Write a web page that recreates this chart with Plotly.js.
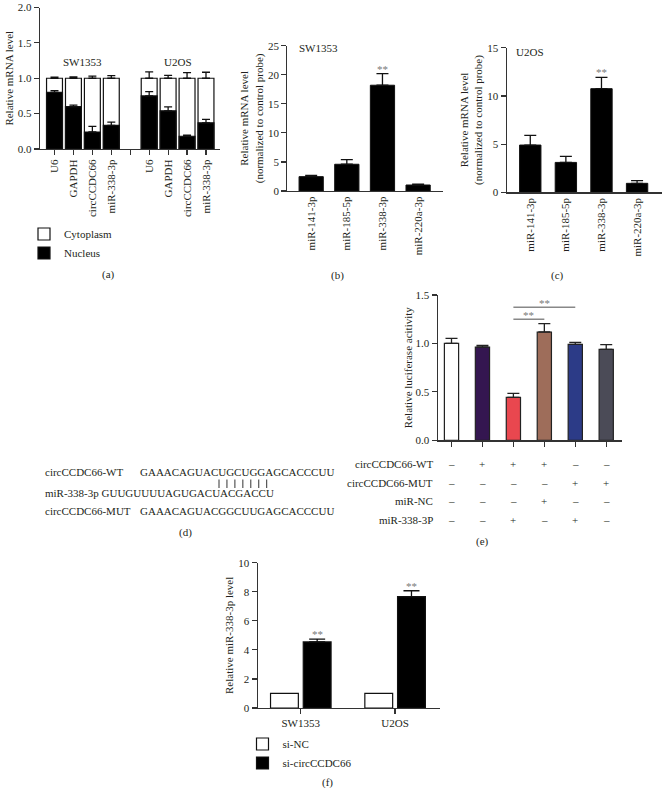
<!DOCTYPE html>
<html><head><meta charset="utf-8">
<script src="https://cdn.plot.ly/plotly-3.0.1.min.js"></script>
<style>html,body{margin:0;padding:0;background:#fff}#chart{width:662px;height:788px}</style>
</head><body><div id="chart"></div>
<script>
// ---------- (a) subcellular fractionation ----------
const fracGenes = ["U6","GAPDH","circCCDC66","miR-338-3p"];
const fracCells = ["SW1353","U2OS"];
const nucleusSW = [0.80,0.60,0.24,0.335];
const nucleusSWErr = [0.026,0.02,0.08,0.045];
const cytoSW = [0.20,0.40,0.76,0.665];
const cytoSWErr = [0.014,0.018,0.03,0.037];
const nucleusU2 = [0.75,0.54,0.18,0.37];
const nucleusU2Err = [0.06,0.055,0.017,0.05];
const cytoU2 = [0.25,0.46,0.82,0.63];
const cytoU2Err = [0.09,0.04,0.08,0.085];
// ---------- (b), (c) candidate miRNAs ----------
const mirNames = ["miR-141-3p","miR-185-5p","miR-338-3p","miR-220a-3p"];
const mirSW = [2.47,4.6,18.2,1.03];
const mirSWErr = [0.23,0.8,2.0,0.17];
const mirU2 = [4.9,3.1,10.75,0.93];
const mirU2Err = [1.0,0.62,1.18,0.28];
const mirSig = ["","","**",""];
// ---------- (d) sequences ----------
const seqLabels = ["circCCDC66-WT","miR-338-3p","circCCDC66-MUT"];
const seqWT = "GAAACAGUACUGCUGGAGCACCCUU";
const seqMiR = "GUUGUUUUAGUGACUACGACCU";
const seqMUT = "GAAACAGUACGGCUUGAGCACCCUU";
const pairCount = 7;
// ---------- (e) luciferase ----------
const lucGroups = [0,1,2,3,4,5];
const lucVals = [1.00,0.963,0.444,1.118,0.99,0.939];
const lucErr = [0.052,0.017,0.041,0.086,0.021,0.048];
const lucColors = ["#ffffff","#341650","#e9474f","#9e6d5a","#2c3b87","#4b4b57"];
const lucRows = ["circCCDC66-WT","circCCDC66-MUT","miR-NC","miR-338-3P"];
const lucTable = [
  ["–","+","+","+","–","–"],
  ["–","–","–","–","+","+"],
  ["–","–","–","+","–","–"],
  ["–","–","+","–","+","–"]
];
const lucSigPairs = [[2,3],[2,4]];
const lucSigText = ["**","**"];
// ---------- (f) knockdown ----------
const kdCells = ["SW1353","U2OS"];
const siNC = [1,1];
const siCirc = [4.55,7.66];
const siCircErr = [0.19,0.41];
const kdSig = ["**","**"];

const F = "Liberation Serif, Times New Roman, serif";
const TC = "#231f20";
const W = 662, H = 788;
const px = v => v / W;
const py = v => 1 - v / H;

const axBase = {showline:true, linecolor:'#333', linewidth:1.2, ticks:'outside', ticklen:5, tickwidth:1.2,
  tickcolor:'#333', showgrid:false, zeroline:false, tickfont:{family:F,size:11,color:TC}, fixedrange:true,
  ticklabeloverflow:'allow'};
const ax = o => Object.assign({}, axBase, o);
const titleFont = {family:F,size:11,color:TC};

const traces = [];
// (a)
const posA = [];
const tickA = [];
fracCells.forEach((c,gi)=>{ fracGenes.forEach((g,i)=>{ posA.push(gi*(fracGenes.length+1)+i); }); });
for (let k=0;k<fracCells.length*(fracGenes.length+1)-1;k++){ tickA.push(k); }
const tickTextA = tickA.map(k=>{ const i=k%(fracGenes.length+1); return i<fracGenes.length?fracGenes[i]:""; });
const nucAll = nucleusSW.concat(nucleusU2);
const nucErrAll = nucleusSWErr.concat(nucleusU2Err);
const cytAll = cytoSW.concat(cytoU2);
const cytErrAll = cytoSWErr.concat(cytoU2Err);
traces.push({type:'bar', name:'Cytoplasm', x:posA, y:cytAll.map((v,i)=>v+nucAll[i]), width:0.84,
  marker:{color:'#ffffff', line:{color:'#111', width:1.2}}, xaxis:'x', yaxis:'y', legend:'legend',
  error_y:{type:'data', symmetric:false, array:cytErrAll, arrayminus:cytErrAll.map(()=>0), color:'#111', thickness:1.3, width:4}});
traces.push({type:'bar', name:'Nucleus', x:posA, y:nucAll, width:0.84,
  marker:{color:'#000000', line:{color:'#111', width:1.2}}, xaxis:'x', yaxis:'y', legend:'legend',
  error_y:{type:'data', symmetric:false, array:nucErrAll, arrayminus:nucErrAll.map(()=>0), color:'#111', thickness:1.3, width:4}});
// (b)
traces.push({type:'bar', x:mirNames, y:mirSW, width:0.68, showlegend:false, marker:{color:'#000', line:{color:'#111',width:1}},
  xaxis:'x2', yaxis:'y2', error_y:{type:'data', symmetric:false, array:mirSWErr, arrayminus:mirSWErr.map(()=>0), color:'#111', thickness:1.3, width:6}});
// (c)
traces.push({type:'bar', x:mirNames, y:mirU2, width:0.6, showlegend:false, marker:{color:'#000', line:{color:'#111',width:1}},
  xaxis:'x3', yaxis:'y3', error_y:{type:'data', symmetric:false, array:mirU2Err, arrayminus:mirU2Err.map(()=>0), color:'#111', thickness:1.3, width:6}});
// (e)
traces.push({type:'bar', x:lucGroups, y:lucVals, width:0.46, showlegend:false, marker:{color:lucColors, line:{color:'#222',width:1.2}},
  xaxis:'x4', yaxis:'y4', error_y:{type:'data', symmetric:false, array:lucErr, arrayminus:lucErr.map(()=>0), color:'#222', thickness:1.3, width:6}});
// (f)
traces.push({type:'bar', name:'si-NC', x:kdCells, y:siNC, width:0.295, offset:-0.32, marker:{color:'#fff', line:{color:'#111',width:1.2}},
  xaxis:'x5', yaxis:'y5', legend:'legend2'});
traces.push({type:'bar', name:'si-circCCDC66', x:kdCells, y:siCirc, width:0.295, offset:0.027, marker:{color:'#000', line:{color:'#111',width:1.2}},
  xaxis:'x5', yaxis:'y5', legend:'legend2',
  error_y:{type:'data', symmetric:false, array:siCircErr, arrayminus:siCircErr.map(()=>0), color:'#111', thickness:1.3, width:8}});

const ann = [];
const txt = (text,x,y,o) => Object.assign({text, x, y, xref:'paper', yref:'paper', xanchor:'center', yanchor:'middle',
  showarrow:false, font:{family:F,size:11,color:TC}}, o||{});
const star = (text,x,y,xr,yr,o) => Object.assign({text, x, y, xref:xr, yref:yr, xanchor:'center', yanchor:'bottom', yshift:-3,
  showarrow:false, font:{family:F,size:11,color:'#777'}}, o||{});
// (a) group labels
fracCells.forEach((c,gi)=>{
  const idx = posA.slice(gi*fracGenes.length,(gi+1)*fracGenes.length);
  ann.push(txt(c, idx.reduce((a,b)=>a+b,0)/idx.length, py(62), {xref:'x'}));
});
// significance stars
mirSig.forEach((s,i)=>{ if(s){
  ann.push(star(s, mirNames[i], mirSW[i]+mirSWErr[i], 'x2', 'y2'));
  ann.push(star(s, mirNames[i], mirU2[i]+mirU2Err[i], 'x3', 'y3'));
}});
kdSig.forEach((s,i)=>{
  ann.push(star(s, i, siCirc[i]+siCircErr[i], 'x5', 'y5', {xshift:(0.027+0.295/2)*94.3}));
});
// panel titles inside (b),(c)
ann.push(txt("SW1353", px(297), py(48.5), {xanchor:'left'}));
ann.push(txt("U2OS", px(514), py(52), {xanchor:'left'}));
// (e) table
lucRows.forEach((r,ri)=>{
  const yy = py(464 + ri*18.6);
  ann.push(txt(r, px(435), yy, {xanchor:'right'}));
  lucTable[ri].forEach((s,ci)=>{ ann.push(txt(s, lucGroups[ci], yy, {xref:'x4'})); });
});
// (e) significance brackets
const shapes = [];
const sigY = [1.249, 1.373];
lucSigPairs.forEach((p,k)=>{
  shapes.push({type:'line', xref:'x4', yref:'y4', x0:p[0], x1:p[1], y0:sigY[k], y1:sigY[k], line:{color:'#888', width:1.5}});
  ann.push(star(lucSigText[k], (p[0]+p[1])/2, sigY[k], 'x4', 'y4', {yshift:-4}));
});
// (d) sequences
ann.push(txt(seqLabels[0], px(42.7), py(471.7), {xanchor:'left'}));
ann.push(txt(seqWT, px(138.3), py(471.7), {xanchor:'left'}));
for (let k=0;k<pairCount;k++){
  const xx = px(219 + k*7.95);
  shapes.push({type:'line', xref:'paper', yref:'paper', x0:xx, x1:xx, y0:py(479.5), y1:py(488), line:{color:'#333', width:1}});
}
ann.push(txt(seqLabels[1] + " " + seqMiR, px(42.7), py(492.7), {xanchor:'left'}));
ann.push(txt(seqLabels[2], px(42.7), py(510.7), {xanchor:'left'}));
ann.push(txt(seqMUT, px(138.3), py(510.7), {xanchor:'left'}));
// captions
[["(a)",109,274],["(b)",337,275],["(c)",557,275],["(d)",185,532],["(e)",482,541.7],["(f)",327,782]].forEach(c=>{
  ann.push(txt(c[0], px(c[1]), py(c[2])));
});

const layout = {
  width:W, height:H, margin:{l:0,r:0,t:0,b:0}, paper_bgcolor:'#fff', plot_bgcolor:'rgba(0,0,0,0)',
  barmode:'overlay', font:{family:F,size:11,color:TC},
  xaxis: ax({domain:[px(40),px(220)], anchor:'y', range:[-0.766,8.74], tickvals:tickA, ticktext:tickTextA, tickangle:-90}),
  yaxis: ax({domain:[py(149),py(7.5)], anchor:'x', range:[0,2], dtick:0.5, tickformat:'.1f',
    title:{text:'Relative mRNA level', font:titleFont, standoff:2}}),
  xaxis2: ax({domain:[px(287.3),px(442.7)], anchor:'y2', type:'category', range:[-0.67,3.69], ticks:'', tickangle:-90}),
  yaxis2: ax({domain:[py(191),py(45.7)], anchor:'x2', range:[0,25], dtick:5,
    title:{text:'Relative mRNA level<br>(normalized to control probe)', font:titleFont, standoff:2}}),
  xaxis3: ax({domain:[px(506.7),1], anchor:'y3', type:'category', range:[-0.662,3.70], ticks:'', tickangle:-90}),
  yaxis3: ax({domain:[py(192.3),py(47.7)], anchor:'x3', range:[0,15], dtick:5,
    title:{text:'Relative mRNA level<br>(normalized to control probe)', font:titleFont, standoff:2}}),
  xaxis4: ax({domain:[px(437.7),px(621.7)], anchor:'y4', range:[-0.446,5.5], tickvals:lucGroups, showticklabels:false}),
  yaxis4: ax({domain:[py(440.3),py(295)], anchor:'x4', range:[0,1.5], dtick:0.5, tickformat:'.1f',
    title:{text:'Relative luciferase acitivity', font:titleFont, standoff:0}}),
  xaxis5: ax({domain:[px(257.7),px(440)], anchor:'y5', type:'category', range:[-0.456,1.477]}),
  yaxis5: ax({domain:[py(708),py(562.7)], anchor:'x5', range:[0,10], dtick:2,
    title:{text:'Relative miR-338-3p level', font:titleFont, standoff:2}}),
  legend: {x:px(24), y:py(219.5), xanchor:'left', yanchor:'top', bgcolor:'rgba(0,0,0,0)', font:{family:F,size:11,color:TC}, traceorder:'normal'},
  legend2: {x:px(242.5), y:py(729.5), xanchor:'left', yanchor:'top', bgcolor:'rgba(0,0,0,0)', font:{family:F,size:11,color:TC}, traceorder:'normal'},
  annotations: ann, shapes: shapes
};
Plotly.newPlot('chart', traces, layout, {staticPlot:true, displayModeBar:false});
</script></body></html>
